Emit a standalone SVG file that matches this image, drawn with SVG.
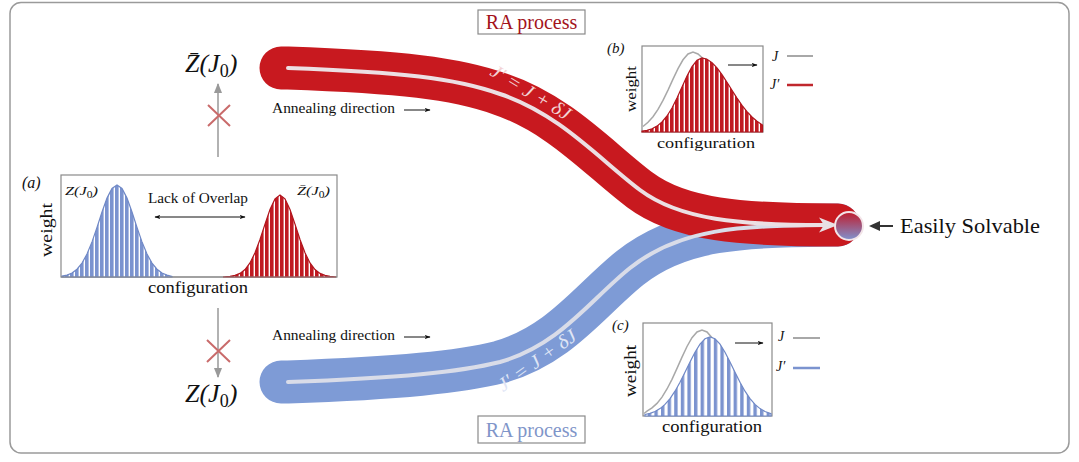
<svg xmlns="http://www.w3.org/2000/svg" width="1079" height="462" viewBox="0 0 1079 462">
<defs>
<style>
.t{font-family:"Liberation Serif","DejaVu Serif",serif;fill:#111}
.it{font-style:italic}
.box{fill:#fff;stroke:#8a8a8a;stroke-width:1.2}
.ax{fill:none;stroke:#999;stroke-width:1.5}
.xm{stroke:#c96b6b;stroke-width:2;fill:none}
.tube{fill:none;stroke-width:43;stroke-linecap:round;stroke-linejoin:round}
.core{fill:none;stroke-width:4;stroke-linecap:round}
</style>
<pattern id="stBlue" patternUnits="userSpaceOnUse" width="5" height="10"><rect width="5" height="10" fill="#fff"/><rect width="3.6" height="10" fill="#7b93cf"/></pattern>
<pattern id="stRed" patternUnits="userSpaceOnUse" width="5" height="10"><rect width="5" height="10" fill="#fff"/><rect width="3.6" height="10" fill="#c01a22"/></pattern>
<pattern id="stBlueC" patternUnits="userSpaceOnUse" width="6.6" height="10" x="1"><rect width="6.6" height="10" fill="#fff"/><rect width="3.4" height="10" fill="#7b93cf"/></pattern>
<linearGradient id="endG" x1="0" y1="0" x2="0" y2="1"><stop offset="0" stop-color="#c01c2c"/><stop offset="1" stop-color="#7f92cf"/></linearGradient>
<marker id="ahG" viewBox="0 0 10 10" refX="9" refY="5" markerWidth="7" markerHeight="7" orient="auto-start-reverse"><path d="M0,1 L10,5 L0,9 Z" fill="#999"/></marker>
<marker id="ahK" viewBox="0 0 10 10" refX="9" refY="5" markerWidth="6" markerHeight="6" orient="auto-start-reverse"><path d="M0,1.5 L10,5 L0,8.5 L2.5,5 Z" fill="#111"/></marker>
</defs>

<rect x="10" y="2.5" width="1059" height="450.5" rx="11" fill="#fff" stroke="#9a9a9a" stroke-width="1.5"/>

<g id="connectors">
  <path class="tube" stroke="#7e9bd6" d="M281,382 H288 C400,378 460,372 500,362 C560,345 590,300 630,268 C680,228 740,226 838,225"/>
  <path class="tube" stroke="#c8191f" d="M281,68 H288 C400,72 455,78 500,94 C560,114 600,160 640,190 C680,220 740,225 838,225"/>
  <path class="core" stroke="#d9dce8" d="M288,382 C400,378 460,372 500,362 C560,345 590,300 630,268 C680,228 740,226 824,225"/>
  <path class="core" stroke="#ecdfe3" d="M288,68 C400,72 455,78 500,94 C560,114 600,160 640,190 C680,220 740,225 824,225"/>
  <polygon points="838,225 819,217.5 824,225 819,232.5" fill="#e8e0e4"/>
  <text class="t it" transform="translate(529,95) rotate(31)" text-anchor="middle" y="3" font-size="19" textLength="90" lengthAdjust="spacingAndGlyphs" style="fill:#f3d3d5">J′ = J + δJ</text>
  <text class="t it" transform="translate(533,355) rotate(-35.5)" text-anchor="middle" y="13" font-size="19" textLength="92" lengthAdjust="spacingAndGlyphs" style="fill:#dfe5f5">J′ = J + δJ</text>
  <line class="ax" x1="218" y1="157" x2="218" y2="84" marker-end="url(#ahG)"/>
  <line class="ax" x1="218" y1="308" x2="218" y2="377" marker-end="url(#ahG)"/>
  <path class="xm" d="M208,105 L230,126 M230,105 L208,126"/>
  <path class="xm" d="M207,340 L230,362 M230,340 L207,362"/>
  <text class="t" x="272" y="113" font-size="14" textLength="123" lengthAdjust="spacingAndGlyphs">Annealing direction</text>
  <line x1="404" y1="110" x2="430" y2="110" stroke="#111" stroke-width="1" marker-end="url(#ahK)"/>
  <text class="t" x="272" y="340" font-size="14" textLength="123" lengthAdjust="spacingAndGlyphs">Annealing direction</text>
  <line x1="404" y1="337" x2="430" y2="337" stroke="#111" stroke-width="1" marker-end="url(#ahK)"/>
  <line x1="878" y1="226" x2="893" y2="226" stroke="#333" stroke-width="2"/>
  <polygon points="869,226 880,221 880,231" fill="#333"/>
</g>

<g id="endpoint">
  <circle cx="849" cy="226" r="14" fill="url(#endG)" stroke="#f2e4e8" stroke-width="2"/>
</g>

<g id="easily-solvable">
  <text class="t" x="900" y="233" font-size="21" textLength="140" lengthAdjust="spacingAndGlyphs">Easily Solvable</text>
</g>

<g id="z-bar-label">
  <text class="t it" x="185" y="72" font-size="26">Z&#x304;(J<tspan font-style="normal" font-size="18" dy="5">0</tspan><tspan dy="-5">)</tspan></text>
</g>

<g id="z-label">
  <text class="t it" x="185" y="402" font-size="26">Z(J<tspan font-style="normal" font-size="18" dy="5">0</tspan><tspan dy="-5">)</tspan></text>
</g>

<g id="ra-top">
  <rect class="box" x="478" y="10" width="107" height="24"/>
  <text class="t" x="531.5" y="28.5" font-size="20" text-anchor="middle" style="fill:#a3131b">RA process</text>
</g>

<g id="ra-bottom">
  <rect class="box" x="478" y="416" width="107" height="27"/>
  <text class="t" x="531.5" y="437" font-size="20" text-anchor="middle" style="fill:#7f95c9">RA process</text>
</g>

<g id="panel-a">
  <text class="t it" x="22" y="188" font-size="16">(a)</text>
  <rect class="box" x="61" y="175" width="276" height="102"/>
  <path fill="url(#stBlue)" stroke="#6f88c6" stroke-width="1.2" d="M62,276.1 L67,275.1 L72,273 L77,269.2 L82,263.1 L87,254.1 L92,241.9 L97,227.4 L102,212 L107,198.1 L112,188.5 L117,185 L122,188.5 L127,198.1 L132,212 L137,227.4 L142,241.9 L147,254.1 L152,263.1 L157,269.2 L162,273 L167,275.1 L172,276.5 L172,277 L62,277 Z"/>
  <path fill="url(#stRed)" stroke="#b0141c" stroke-width="1.2" d="M223,277 L230,276.4 L235,275.4 L240,273.4 L245,269.5 L250,262.9 L255,252.8 L260,239.5 L265,224.1 L270,209.5 L275,198.9 L280,195 L285,198.9 L290,209.5 L295,224.1 L300,239.5 L305,252.8 L310,262.9 L315,269.5 L320,273.4 L325,275.4 L330,276.4 L336,277 Z"/>
  <line x1="61" y1="277" x2="337" y2="277" stroke="#8a8a8a" stroke-width="1.2"/>
  <text class="t it" x="65" y="195" font-size="13.5" textLength="33" lengthAdjust="spacingAndGlyphs">Z(J<tspan font-style="normal" font-size="9.5" dy="3">0</tspan><tspan dy="-3">)</tspan></text>
  <text class="t it" x="297" y="195" font-size="13.5" textLength="33" lengthAdjust="spacingAndGlyphs">Z&#x304;(J<tspan font-style="normal" font-size="9.5" dy="3">0</tspan><tspan dy="-3">)</tspan></text>
  <text class="t" x="148" y="203" font-size="14.5" textLength="100" lengthAdjust="spacingAndGlyphs">Lack of Overlap</text>
  <line x1="155" y1="217" x2="245" y2="217" stroke="#111" stroke-width="1" marker-start="url(#ahK)" marker-end="url(#ahK)"/>
  <text class="t" transform="translate(52,230) rotate(-90)" text-anchor="middle" font-size="17" textLength="54" lengthAdjust="spacingAndGlyphs">weight</text>
  <text class="t" x="198" y="293" font-size="17" text-anchor="middle" textLength="100" lengthAdjust="spacingAndGlyphs">configuration</text>
</g>

<g id="panel-b">
  <text class="t it" x="607" y="53" font-size="15">(b)</text>
  <rect class="box" x="642" y="46" width="121" height="86"/>
  <path fill="none" stroke="#a8a8a8" stroke-width="1.5" d="M643,126.5 L648,122.2 L653,116.7 L658,109.4 L663,100.4 L668,90.1 L673,79.1 L678,68.6 L683,59.8 L688,54 L693,52 L698,54 L703,58.5 L707,59.2"/>
  <path fill="url(#stRed)" stroke="#b0141c" stroke-width="1.2" d="M642,131.2 L647,130.3 L652,128.7 L657,126.1 L662,122 L667,116 L672,108 L677,98.1 L682,87.1 L687,76.1 L692,66.7 L697,60.3 L702,58 L707,59.2 L712,62.6 L717,67.9 L722,74.7 L727,82.3 L732,90.3 L737,98.1 L742,105.3 L747,111.6 L752,117 L757,121.2 L762.5,125 L762.5,132 L642,132 Z"/>
  <line x1="728" y1="65" x2="757" y2="65" stroke="#111" stroke-width="1" marker-end="url(#ahK)"/>
  <text class="t" transform="translate(636,89) rotate(-90)" text-anchor="middle" font-size="15" textLength="46" lengthAdjust="spacingAndGlyphs">weight</text>
  <text class="t" x="706" y="148" font-size="15.5" text-anchor="middle" textLength="98" lengthAdjust="spacingAndGlyphs">configuration</text>
  <text class="t it" x="772" y="61" font-size="14">J</text>
  <line x1="787" y1="56" x2="813" y2="56" stroke="#a8a8a8" stroke-width="2"/>
  <text class="t it" x="770" y="89" font-size="14">J′</text>
  <line x1="787" y1="85" x2="813" y2="85" stroke="#c0272d" stroke-width="2.5"/>
</g>

<g id="panel-c">
  <text class="t it" x="612" y="330" font-size="15">(c)</text>
  <rect class="box" x="643" y="323" width="129" height="93"/>
  <path fill="none" stroke="#a8a8a8" stroke-width="1.5" d="M644,413.5 L647,411.1 L652,407.9 L657,403.4 L662,397.1 L667,389 L672,379.3 L677,368.4 L682,357.1 L687,346.5 L692,337.7 L697,332 L702,330 L707,332 L712,337.7 L717,346.5 L722,357.1 L727,368.4 L732,379.3 L737,389 L742,397.1 L747,403.4 L752,407.9 L757,411.1 L762,413.1 L771,415"/>
  <path fill="url(#stBlueC)" stroke="#6f88c6" stroke-width="1.2" d="M645,414.5 L650,413.4 L655,411.5 L660,408.6 L665,404.4 L670,398.6 L675,391.2 L680,382.3 L685,372.2 L690,361.9 L695,352.2 L700,344.1 L705,338.8 L710,337 L715,338.8 L720,344.1 L725,352.2 L730,361.9 L735,372.2 L740,382.3 L745,391.2 L750,398.6 L755,404.4 L760,408.6 L765,411.5 L771,413.6 L771,416 L645,416 Z"/>
  <line x1="735" y1="343" x2="763" y2="343" stroke="#111" stroke-width="1" marker-end="url(#ahK)"/>
  <text class="t" transform="translate(636,371) rotate(-90)" text-anchor="middle" font-size="16" textLength="52" lengthAdjust="spacingAndGlyphs">weight</text>
  <text class="t" x="712" y="432" font-size="16" text-anchor="middle" textLength="100" lengthAdjust="spacingAndGlyphs">configuration</text>
  <text class="t it" x="778" y="341" font-size="14">J</text>
  <line x1="793" y1="338" x2="820" y2="338" stroke="#a8a8a8" stroke-width="2"/>
  <text class="t it" x="776" y="371" font-size="14">J′</text>
  <line x1="793" y1="368" x2="820" y2="368" stroke="#7b93cf" stroke-width="2.5"/>
</g>
</svg>
